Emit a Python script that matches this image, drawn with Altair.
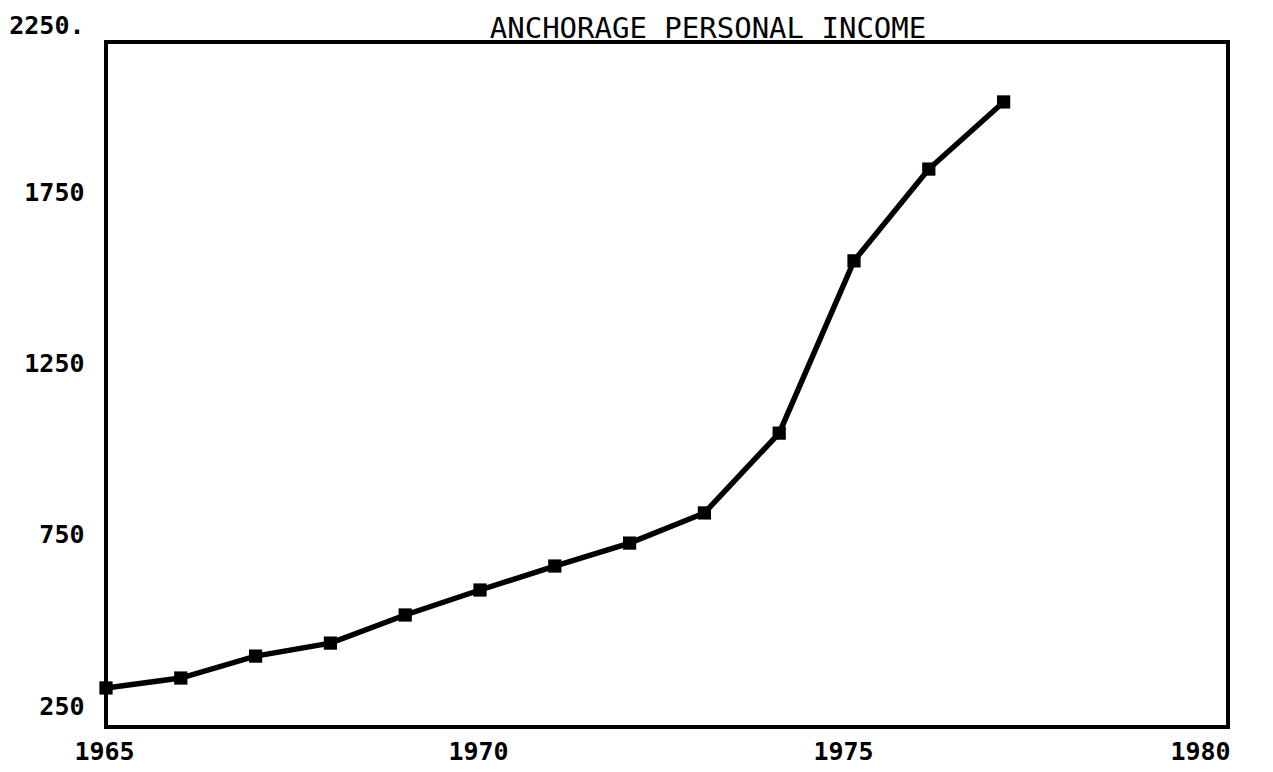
import altair as alt
import pandas as pd

years = [1965, 1966, 1967, 1968, 1969, 1970, 1971, 1972, 1973, 1974, 1975, 1976, 1977]
income = [364, 393, 457, 495, 577, 650, 720, 787, 875, 1108, 1611, 1879, 2075]
y_ticks = [250, 750, 1250, 1750, 2250]
x_ticks = [1965, 1970, 1975, 1980]
title_text = "ANCHORAGE PERSONAL INCOME"

df = pd.DataFrame({"year": years, "income": income})

FONT = "DejaVu Sans Mono"

x = alt.X(
    "year:Q",
    scale=alt.Scale(domain=[1965, 1980], nice=False, zero=False),
    axis=alt.Axis(
        values=x_ticks, title=None, format="d", grid=False, domain=False, ticks=False,
        labelFont=FONT, labelFontSize=25, labelFontWeight="bold", labelColor="black",
        labelPadding=12, labelFlush=False, labelAlign="center",
        labelOffset={"condition": [
            {"test": "datum.value == 1975", "value": -11},
            {"test": "datum.value == 1980", "value": -28}],
            "value": -2},
    ),
)
y = alt.Y(
    "income:Q",
    scale=alt.Scale(domain=[250, 2250], nice=False, zero=False),
    axis=alt.Axis(
        values=y_ticks, title=None, grid=False, domain=False, ticks=False,
        labelExpr="datum.value == 2250 ? '2250.' : format(datum.value, 'd')",
        labelFont=FONT, labelFontSize=25, labelFontWeight="bold", labelColor="black",
        labelPadding=22, labelBaseline="middle", labelAlign="right",
        labelOffset={"condition": [
            {"test": "datum.value == 2250", "value": -17}],
            "value": -21},
        labelFlush=False,
    ),
)

line = alt.Chart(df).mark_line(color="black", strokeWidth=5.5).encode(x=x, y=y)
pts = alt.Chart(df).mark_point(shape="square", filled=True, color="black", size=175, opacity=1).encode(x=x, y=y)
title = alt.Chart(pd.DataFrame({"t": [title_text]})).mark_text(
    font=FONT, fontSize=29, color="black", baseline="alphabetic", align="center"
).encode(text="t:N", x=alt.value(602), y=alt.value(-4))

chart = (line + pts + title).properties(
    width=1122,
    height=685,
    autosize=alt.AutoSizeParams(type="none"),
    padding={"left": 98, "top": 34, "right": 37, "bottom": 44},
).configure_view(stroke="black", strokeWidth=4)

chart.save("out.html", embed_options={"renderer": "svg", "actions": False})
